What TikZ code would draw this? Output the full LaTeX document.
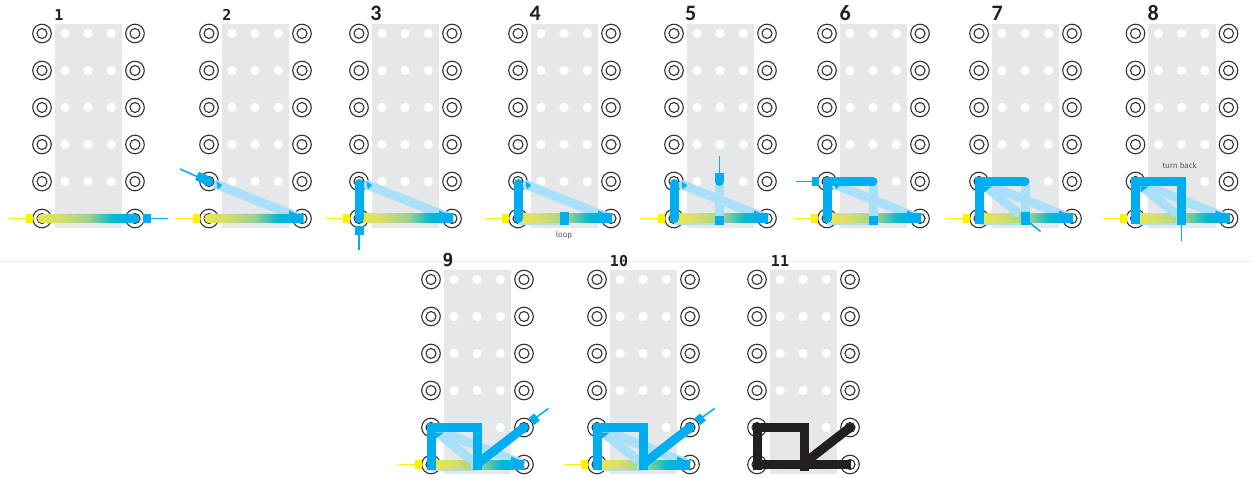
\documentclass[tikz,border=0pt]{standalone}
\usepackage{fontspec}
\setmainfont{Fira Sans}
\newfontfamily\monofam{DejaVu Sans Mono}
\newfontfamily\numfam{Carlito}
\definecolor{cblue}{HTML}{00AEEF}
\definecolor{clight}{HTML}{A9DFF9}
\definecolor{cyel}{HTML}{FFF200}
\definecolor{cgrey}{HTML}{E6E7E8}
\definecolor{cblack}{HTML}{231F20}
\definecolor{ctext}{HTML}{58595B}
\definecolor{ring}{HTML}{333333}
\definecolor{ga}{HTML}{E9E64E}
\definecolor{gb}{HTML}{D5DF6A}
\definecolor{gc}{HTML}{9FD18F}
\definecolor{gd}{HTML}{00BBD0}
\pgfdeclarehorizontalshading{stripgrad}{100bp}{
 color(0bp)=(ga);
 color(25bp)=(ga);
 color(35bp)=(gb);
 color(50bp)=(gc);
 color(62bp)=(gd);
 color(70bp)=(cblue);
 color(100bp)=(cblue)}
\tikzset{
 x=1pt,y=-1pt,
 padouter/.style={draw=ring,fill=white,line width=1.1pt},
 padinner/.style={draw=ring,line width=1.1pt},
 thick blue/.style={draw=cblue,line width=9pt},
 thick black/.style={draw=cblack,line width=9pt},
 band/.style={draw=clight,line width=9pt},
 wire blue/.style={color=cblue,line width=1.5pt},
 wire yellow/.style={color=cyel,line width=1.5pt},
 title/.style={font=\numfam\bfseries\fontsize{22}{22}\selectfont,text=cblack,inner sep=0pt},
 titlem/.style={font=\monofam\bfseries\fontsize{15}{15}\selectfont,text=cblack,inner sep=0pt},
 note/.style={font=\fontsize{8}{8}\selectfont,text=ctext,inner sep=0pt},
}
\newcommand\panelbase{%
 \fill[cgrey] (12.5,-194.5) rectangle (80,9.5);
 \foreach \r in {0,...,5}{
  \foreach \c in {23,46,69.3}{\fill[white] (\c,-37*\r) circle[radius=4.6];}
  \foreach \c in {0,93}{
   \draw[padouter] (\c,-37*\r) circle[radius=9.3];
   \draw[padinner] (\c,-37*\r) circle[radius=5];}
 }
 \coordinate (A) at (0,0); \coordinate (B) at (93,0);
 \coordinate (C) at (0,-37); \coordinate (D) at (93,-37);
 \coordinate (M) at (46,0); \coordinate (N) at (46,-37);
}
\newcommand\yellowin{%
 \fill[cyel] (-16,-4.5) rectangle (-9,4.5);
 \draw[wire yellow] (-33,0) -- (-16,0);
}
\newcommand\stripbar[2]{\shade[shading=stripgrad] (#1,-4.5) rectangle (#2,4.5);}
\newcommand\diagband{%
 \draw[band,shorten <=6pt] (C) -- (B);
 \fill[cblue] (7.7,-37) -- (13,-33.5) -- (8.7,-29) -- cycle;
 \fill[cblue] (80,-8) -- (88,-4.5) -- (80,-4.5) -- cycle;
}
\newcommand\underlight{\fill[clight] (0,-4.5) rectangle (46,6.5);}
\newcommand\leftround{\draw[thick blue,line cap=round] (0,-35) -- (0,0);}
\newcommand\wedgecorner{\fill[cblue] (5,-32) -- (12.7,-32) -- (5,-26) -- cycle;}
\newcommand\rightdiag{%
 \draw[thick blue,line cap=round] (D) -- (48,-2);
 \draw[cblue,line width=9pt] (100.5,-43) -- (106,-47.5);
 \draw[wire blue] (105,-47) -- (117.5,-56);
}
\begin{document}
\begin{tikzpicture}
\useasboundingbox (0,0) rectangle (1252,478);
\fill[white] (0,0) rectangle (1252,478);
\draw[cgrey!70,line width=0.8pt] (0,261.5) -- (1252,261.5);

% 1
\begin{scope}[shift={(42,218.5)}]
 \panelbase \yellowin
 \shade[shading=stripgrad,rounded corners=4.4pt] (-4.5,-4.5) rectangle (97,4.5);
 \fill[cblue] (101,-4.5) rectangle (109,4.5);
 \draw[wire blue] (109,0) -- (126,0);
\end{scope}
% 2
\begin{scope}[shift={(209,218.5)}]
 \panelbase \yellowin
 \diagband
 \shade[shading=stripgrad,rounded corners=4.4pt] (94.5,-4.5) [sharp corners] -- (94.5,4.5) [rounded corners=4.4pt] -- (-4.5,4.5) -- (-4.5,-4.5) [sharp corners] -- cycle;
 \draw[thick blue,line cap=round] (C) -- (-6,-40);
 \draw[cblue,line width=9pt] (-6,-40) -- (-12,-42.5);
 \draw[wire blue] (-29,-49.5) -- (-12,-42);
\end{scope}
% 3
\begin{scope}[shift={(359,218.5)}]
 \panelbase \yellowin
 \diagband
 \stripbar{4}{94}
 \leftround
 \fill[cblue] (-4.5,7.5) rectangle (4.5,16.5);
 \draw[wire blue] (0,16.5) -- (0,32);
\end{scope}
% 4
\begin{scope}[shift={(518,218.5)}]
 \panelbase \yellowin
 \diagband \underlight
 \stripbar{4}{94}
 \leftround
 \fill[cblue] (41.5,-6) rectangle (50.5,6.5);
 \node[note] (loop4) at (46,16.5) {loop};
\end{scope}
% 5
\begin{scope}[shift={(674,218.5)}]
 \panelbase \yellowin
 \diagband \underlight
 \stripbar{4}{94}
 \draw[band] (45.5,-33) -- (45.5,-2.5);
 \leftround
 \fill[cblue] (41,-2.5) rectangle (50,6.5);
 \draw[cblue,line width=9pt] (45.5,-45) -- (45.5,-37);
 \fill[cblue] (45.5,-37) circle[radius=4.5];
 \fill[cblue] (44.75,-62) rectangle (46.25,-45);
\end{scope}
% 6
\begin{scope}[shift={(827,218.5)}]
 \panelbase \yellowin
 \diagband \underlight
 \stripbar{4}{94}
 \draw[band] (46,-33) -- (46,-2.5);
 \draw[thick blue,line cap=round,line join=round] (0,0) -- (0,-37) -- (46,-37);
 \fill[cblue] (41.5,-2.5) rectangle (50.5,6.5);
 \fill[cblue] (-15,-41.5) rectangle (-8,-32.5);
 \fill[cblue] (-31,-37.75) rectangle (-15,-36.25);
\end{scope}
% 7
\begin{scope}[shift={(979,218.5)}]
 \panelbase \yellowin
 \diagband \underlight
 \stripbar{4}{94}
 \draw[band] (46,-33) -- (46,-6);
 \draw[band,shorten <=6pt,shorten >=7pt] (C) -- (M);
 \draw[thick blue,line cap=round] (46,-37) -- (4,-37);
 \draw[thick blue] (0,5.5) -- (0,-37) -- (6,-37);
 \wedgecorner
 \fill[cblue] (41.5,-6) rectangle (50.5,6.5);
 \draw[wire blue] (51,4.5) -- (61.5,13);
\end{scope}
% 8
\begin{scope}[shift={(1135.5,218.5)}]
 \panelbase \yellowin
 \diagband \underlight
 \stripbar{4}{94}
 \fill[clight] (40,-4.5) rectangle (41.5,4.5);
 \draw[band,shorten <=6pt,shorten >=7pt] (C) -- (M);
 \draw[thick blue] (0,5.5) -- (0,-37) -- (46,-37) -- (46,6.5);
 \wedgecorner
 \fill[cblue] (45.25,6.5) rectangle (46.75,23);
 \node[note] (back8) at (44,-52.5) {turn back};
\end{scope}
% 9
\begin{scope}[shift={(431,464.5)}]
 \panelbase \yellowin
 \diagband \underlight
 \stripbar{4}{93}
 \fill[clight] (40,-4.5) rectangle (41.5,4.5);
 \draw[band,shorten <=6pt,shorten >=7pt] (C) -- (M);
 \draw[thick blue] (0,5.5) -- (0,-37) -- (46,-37) -- (46,5.5);
 \wedgecorner
 \rightdiag
\end{scope}
% 10
\begin{scope}[shift={(597,464.5)}]
 \panelbase \yellowin
 \diagband \underlight
 \stripbar{4}{93}
 \fill[clight] (40,-4.5) rectangle (41.5,4.5);
 \draw[band,shorten <=6pt,shorten >=7pt] (C) -- (M);
 \draw[thick blue] (0,5.5) -- (0,-37) -- (46,-37) -- (46,5.5);
 \wedgecorner
 \rightdiag
\end{scope}
% 11
\begin{scope}[shift={(757,464.5)}]
 \panelbase
 \draw[thick black] (-4,0) -- (94,0);
 \draw[thick black] (0,5) -- (0,-37) -- (47,-37) -- (47,6);
 \draw[thick black,line cap=round] (D) -- (48,-2);
\end{scope}

\node[titlem] (t1) at (59,15) {1};
\node[titlem] (t2) at (227,15) {2};
\node[title] (t3) at (376,13) {3};
\node[title] (t4) at (535.3,13) {4};
\node[title] (t5) at (690.7,13) {5};
\node[title] (t6) at (845.3,13) {6};
\node[title] (t7) at (997.3,13) {7};
\node[title] (t8) at (1153.3,13) {8};
\node[titlem,font=\monofam\bfseries\fontsize{18}{18}\selectfont] (t9) at (448,260) {9};
\node[titlem] (t10) at (619,261) {10};
\node[titlem] (t11) at (780,261) {11};
\end{tikzpicture}
\end{document}
